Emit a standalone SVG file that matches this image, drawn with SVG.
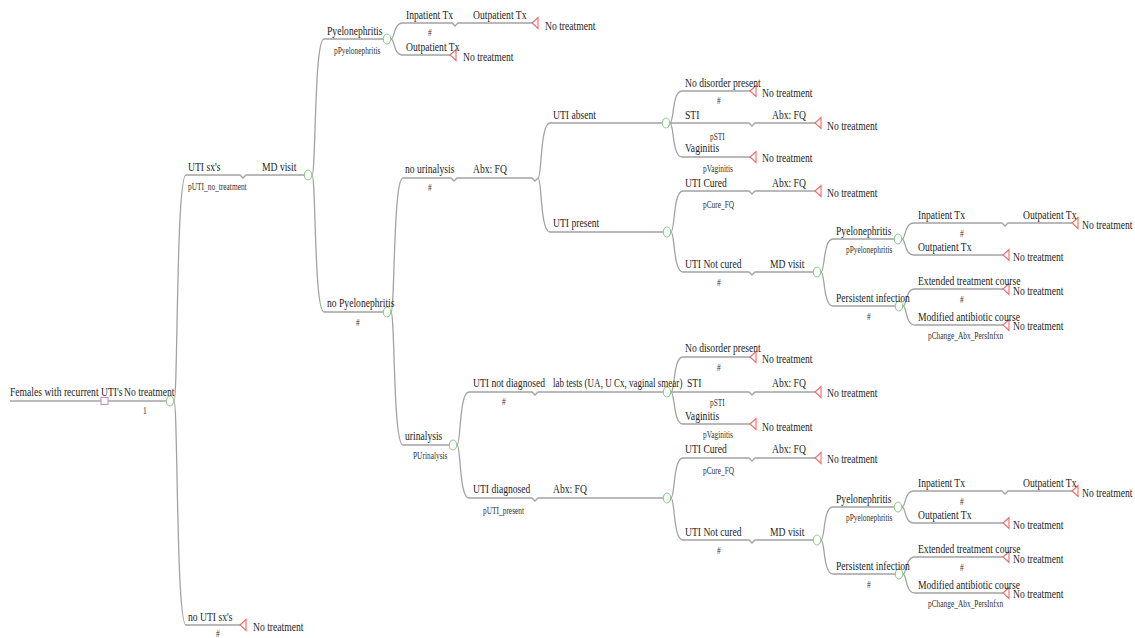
<svg xmlns="http://www.w3.org/2000/svg" xmlns:xlink="http://www.w3.org/1999/xlink" width="1135" height="638" viewBox="0 0 1135 638">
<style>
.ln { fill:none; stroke:#a3a3a3; stroke-width:1.3; }
.ch { fill:#fff; stroke:#8ccf8c; stroke-width:1.1; }
.tm { fill:#fff; stroke:#ee6b6b; stroke-width:1.1; }
.dc { fill:#fff; stroke:#d08ad0; stroke-width:1.1; }
text { font-family:"Liberation Serif","Times New Roman",serif; fill:#1e1e1e; transform-box:fill-box; transform-origin:0 0; transform:scaleX(0.74); }
text.nar { transform:scaleX(0.695); }
.L { font-size:13px; }
.S { font-size:10px; fill:#333; }
</style>
<defs>
<path id="tri" class="tm" d="M0,0 L6,-5.5 L6,5.5 Z"/>
<ellipse id="chn" class="ch" cx="0" cy="0" rx="3.7" ry="5"/>
</defs>
<rect width="1135" height="638" fill="#fff"/>
<g id="connectors" class="ln">
<path d="M10,401 H170"/>
<path d="M174,401 C178,401 176,175 186,175 H240 l3,3 l3,-3 H308"/>
<path d="M174,401 C178,401 176,625 186,625 H240"/>
<path d="M312,175 C316,175 314,39 324,39 H387"/>
<path d="M312,175 C316,175 314,312 324,312 H387"/>
<path d="M391,39 C395,39 393,23 403,23 H452 l3,3 l3,-3 H532"/>
<path d="M391,39 C395,39 393,55 403,55 H450"/>
<path d="M391,312 C395,312 393,178 403,178 H451 l3,3 l3,-3 H532 l3,3 l3,-3"/>
<path d="M391,312 C395,312 393,445 403,445 H453"/>
<path d="M538,178 C542,178 540,123 550,123 H666"/>
<path d="M538,178 C542,178 540,232 550,232 H667"/>
<path d="M670,123 C674,123 672,91 682,91 H750"/>
<path d="M670,123 H749 l3,3 l3,-3 H815"/>
<path d="M670,123 C674,123 672,157 682,157 H750"/>
<path d="M671,232 C675,232 673,191 683,191 H749 l3,3 l3,-3 H815"/>
<path d="M671,232 C675,232 673,272 683,272 H749 l3,3 l3,-3 H817"/>
<path d="M821,272 C825,272 823,239 833,239 H898"/>
<path d="M821,272 C825,272 823,306 833,306 H899"/>
<path d="M902,239 C906,239 904,223 914,223 H1002 l3,3 l3,-3 H1072"/>
<path d="M902,239 C906,239 904,255 914,255 H1003"/>
<path d="M903,306 C907,306 905,289 915,289 H1003"/>
<path d="M903,306 C907,306 905,325 915,325 H1003"/>
<path d="M457,445 C461,445 459,392 469,392 H532 l3,3 l3,-3 H667"/>
<path d="M457,445 C461,445 459,498 469,498 H532 l3,3 l3,-3 H667"/>
<path d="M671,392 C675,392 673,357 683,357 H750"/>
<path d="M671,392 H749 l3,3 l3,-3 H815"/>
<path d="M671,392 C675,392 673,424 683,424 H750"/>
<path d="M671,498 C675,498 673,458 683,458 H749 l3,3 l3,-3 H815"/>
<path d="M671,498 C675,498 673,540 683,540 H749 l3,3 l3,-3 H817"/>
<path d="M821,540 C825,540 823,507 833,507 H898"/>
<path d="M821,540 C825,540 823,574 833,574 H899"/>
<path d="M902,507 C906,507 904,491 914,491 H1002 l3,3 l3,-3 H1072"/>
<path d="M902,507 C906,507 904,523 914,523 H1003"/>
<path d="M903,574 C907,574 905,557 915,557 H1003"/>
<path d="M903,574 C907,574 905,593 915,593 H1003"/>
</g>
<g id="n-root"><rect class="dc" x="101" y="397.5" width="7" height="7"/><text class="L" x="10" y="396">Females with recurrent UTI's</text></g>
<g id="n-c0"><use href="#chn" x="170" y="401"/><text class="L" x="124" y="396">No treatment</text><text class="S" x="143" y="414">1</text></g>
<g id="n-c1"><use href="#chn" x="308" y="175"/><text class="L" x="188" y="171">UTI sx's</text><text class="S" x="188" y="190">pUTI_no_treatment</text><text class="L" x="262" y="171">MD visit</text></g>
<g id="t-nouti"><use href="#tri" x="240" y="625"/><text class="L" x="188" y="621">no UTI sx's</text><text class="S" x="216" y="637">#</text><text class="L" x="253" y="631">No treatment</text></g>
<g id="n-c2"><use href="#chn" x="387" y="39"/><text class="L" x="327" y="35">Pyelonephritis</text><text class="S" x="334" y="54">pPyelonephritis</text></g>
<g id="t-c2a"><use href="#tri" x="532" y="23"/><text class="L" x="406" y="19">Inpatient Tx</text><text class="S" x="428" y="36">#</text><text class="L" x="473" y="19">Outpatient Tx</text><text class="L" x="545" y="30">No treatment</text></g>
<g id="t-c2b"><use href="#tri" x="450" y="55"/><text class="L" x="406" y="51">Outpatient Tx</text><text class="L" x="463" y="61">No treatment</text></g>
<g id="n-c3"><use href="#chn" x="387" y="312"/><text class="L" x="327" y="307">no Pyelonephritis</text><text class="S" x="356" y="326">#</text></g>
<g id="n-abx1"><text class="L" x="405" y="173">no urinalysis</text><text class="S" x="428" y="191">#</text><text class="L" x="473" y="173">Abx: FQ</text></g>
<g id="n-c6"><use href="#chn" x="666" y="123"/><text class="L" x="553" y="119">UTI absent</text></g>
<g id="t-c6a"><use href="#tri" x="750" y="91"/><text class="L" x="685" y="87">No disorder present</text><text class="S" x="717" y="104">#</text><text class="L" x="762" y="97">No treatment</text></g>
<g id="t-c6b"><use href="#tri" x="815" y="123"/><text class="L" x="685" y="119">STI</text><text class="L" x="772" y="119">Abx: FQ</text><text class="S" x="710" y="140">pSTI</text><text class="L" x="827" y="130">No treatment</text></g>
<g id="t-c6c"><use href="#tri" x="750" y="157"/><text class="L" x="685" y="152">Vaginitis</text><text class="S" x="703" y="172">pVaginitis</text><text class="L" x="762" y="162">No treatment</text></g>
<g id="n-c7"><use href="#chn" x="667" y="232"/><text class="L" x="553" y="227">UTI present</text></g>
<g id="t-c7a"><use href="#tri" x="815" y="191"/><text class="L" x="685" y="187">UTI Cured</text><text class="L" x="772" y="187">Abx: FQ</text><text class="S" x="703" y="208">pCure_FQ</text><text class="L" x="827" y="197">No treatment</text></g>
<g id="n-c8"><use href="#chn" x="817" y="272"/><text class="L" x="685" y="268">UTI Not cured</text><text class="S" x="717" y="286">#</text><text class="L" x="770" y="268">MD visit</text></g>
<g id="n-c9"><use href="#chn" x="898" y="239"/><text class="L" x="836" y="235">Pyelonephritis</text><text class="S" x="846" y="253">pPyelonephritis</text></g>
<g id="t-c9a"><use href="#tri" x="1072" y="223"/><text class="L" x="918" y="219">Inpatient Tx</text><text class="S" x="960" y="237">#</text><text class="L" x="1023" y="219">Outpatient Tx</text><text class="L" x="1082" y="229">No treatment</text></g>
<g id="t-c9b"><use href="#tri" x="1003" y="255"/><text class="L" x="918" y="251">Outpatient Tx</text><text class="L" x="1013" y="261">No treatment</text></g>
<g id="n-c10"><use href="#chn" x="899" y="306"/><text class="L" x="836" y="302">Persistent infection</text><text class="S" x="867" y="320">#</text></g>
<g id="t-c10a"><use href="#tri" x="1003" y="289"/><text class="L" x="918" y="285">Extended treatment course</text><text class="S" x="960" y="303">#</text><text class="L" x="1013" y="295">No treatment</text></g>
<g id="t-c10b"><use href="#tri" x="1003" y="325"/><text class="L" x="918" y="321">Modified antibiotic course</text><text class="S" x="928" y="339">pChange_Abx_PersInfxn</text><text class="L" x="1013" y="330">No treatment</text></g>
<g id="n-c5"><use href="#chn" x="453" y="445"/><text class="L" x="405" y="440">urinalysis</text><text class="S" x="413" y="459">PUrinalysis</text></g>
<g id="n-c6l"><use href="#chn" x="667" y="392"/><text class="L" x="473" y="387">UTI not diagnosed</text><text class="S" x="502" y="405">#</text><text class="L nar" x="553" y="387">lab tests (UA, U Cx, vaginal smear)</text></g>
<g id="t-c6la"><use href="#tri" x="750" y="357"/><text class="L" x="685" y="352">No disorder present</text><text class="S" x="717" y="371">#</text><text class="L" x="762" y="363">No treatment</text></g>
<g id="t-c6lb"><use href="#tri" x="815" y="392"/><text class="L" x="687" y="387">STI</text><text class="L" x="772" y="387">Abx: FQ</text><text class="S" x="710" y="406">pSTI</text><text class="L" x="827" y="397">No treatment</text></g>
<g id="t-c6lc"><use href="#tri" x="750" y="424"/><text class="L" x="685" y="420">Vaginitis</text><text class="S" x="703" y="438">pVaginitis</text><text class="L" x="762" y="431">No treatment</text></g>
<g id="n-c7l"><use href="#chn" x="667" y="498"/><text class="L" x="473" y="493">UTI diagnosed</text><text class="S" x="483" y="514">pUTI_present</text><text class="L" x="553" y="493">Abx: FQ</text></g>
<g id="t-c7la"><use href="#tri" x="815" y="458"/><text class="L" x="685" y="453">UTI Cured</text><text class="L" x="772" y="453">Abx: FQ</text><text class="S" x="703" y="474">pCure_FQ</text><text class="L" x="827" y="463">No treatment</text></g>
<g id="n-c8l"><use href="#chn" x="817" y="540"/><text class="L" x="685" y="536">UTI Not cured</text><text class="S" x="717" y="554">#</text><text class="L" x="770" y="536">MD visit</text></g>
<g id="n-c9l"><use href="#chn" x="898" y="507"/><text class="L" x="836" y="503">Pyelonephritis</text><text class="S" x="846" y="521">pPyelonephritis</text></g>
<g id="t-c9la"><use href="#tri" x="1072" y="491"/><text class="L" x="918" y="487">Inpatient Tx</text><text class="S" x="960" y="505">#</text><text class="L" x="1023" y="487">Outpatient Tx</text><text class="L" x="1082" y="497">No treatment</text></g>
<g id="t-c9lb"><use href="#tri" x="1003" y="523"/><text class="L" x="918" y="519">Outpatient Tx</text><text class="L" x="1013" y="529">No treatment</text></g>
<g id="n-c10l"><use href="#chn" x="899" y="574"/><text class="L" x="836" y="570">Persistent infection</text><text class="S" x="867" y="588">#</text></g>
<g id="t-c10la"><use href="#tri" x="1003" y="557"/><text class="L" x="918" y="553">Extended treatment course</text><text class="S" x="960" y="571">#</text><text class="L" x="1013" y="563">No treatment</text></g>
<g id="t-c10lb"><use href="#tri" x="1003" y="593"/><text class="L" x="918" y="589">Modified antibiotic course</text><text class="S" x="928" y="607">pChange_Abx_PersInfxn</text><text class="L" x="1013" y="598">No treatment</text></g>
</svg>
